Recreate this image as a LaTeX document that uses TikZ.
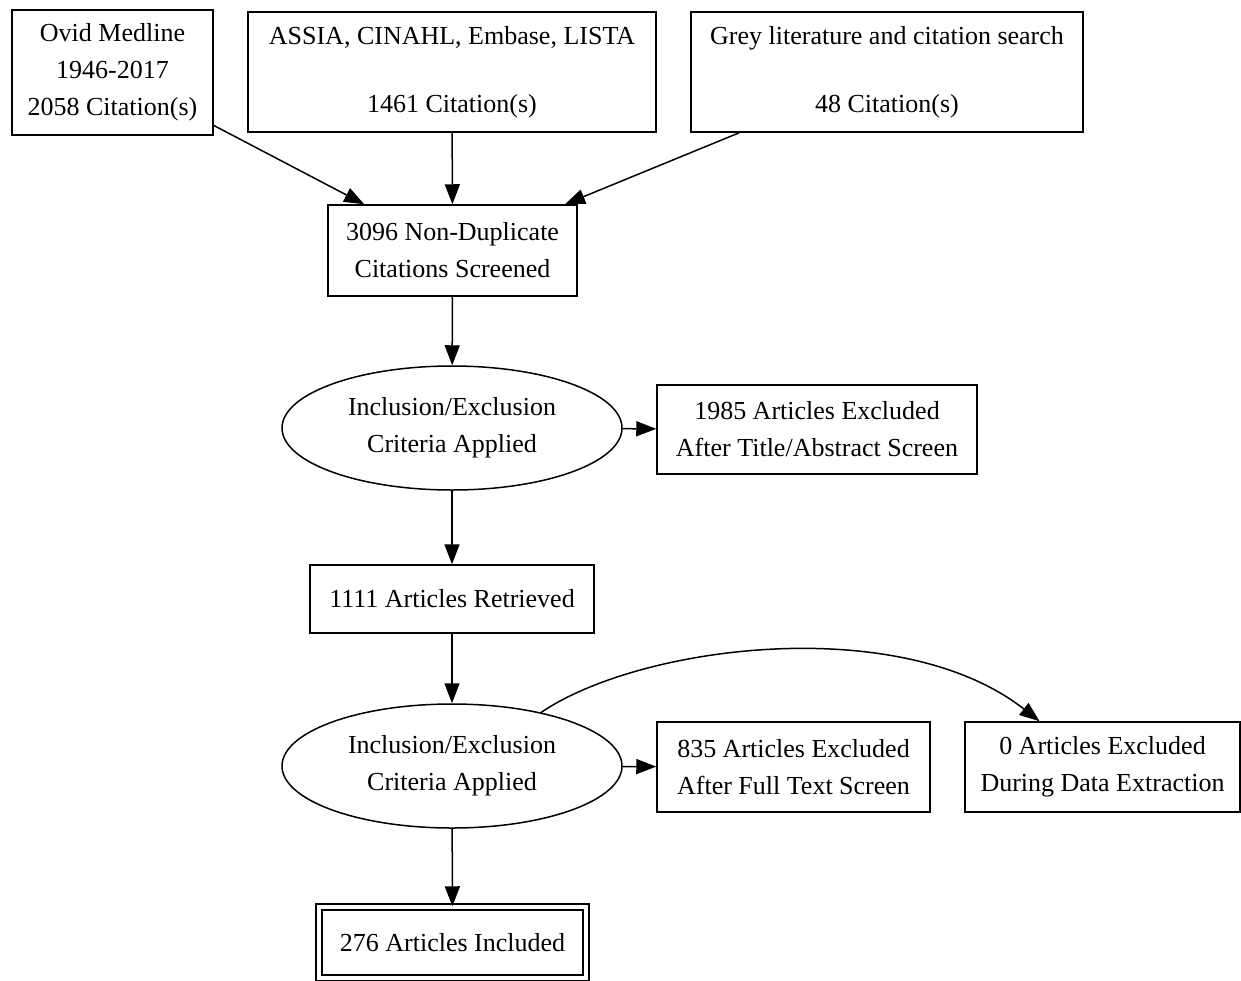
\documentclass[tikz,border=0pt]{standalone}
\usepackage{fontspec}
\setmainfont{Liberation Serif}
\usetikzlibrary{shapes.geometric,arrows.meta}

\begin{document}
\begin{tikzpicture}[x=1pt,y=-1pt,
	font=\fontsize{26}{37}\selectfont,
	box/.style={draw,line width=1.5pt,rectangle,align=center,inner sep=0pt},
	oval/.style={draw,line width=1.5pt,ellipse,align=center,inner sep=0pt,minimum width=340pt,minimum height=124pt},
	link/.style={line width=1.5pt,-{Triangle[length=20pt,width=15pt]}}]
	\useasboundingbox (0,0) rectangle (1241,980);

	% sources
	\node[box,minimum width=201pt,minimum height=125pt] (ovid) at (112.5,72.5) {Ovid Medline\\1946-2017\\2058 Citation(s)};
	\node[box,minimum width=408pt,minimum height=120pt] (assia) at (452,72) {ASSIA, CINAHL, Embase, LISTA\\[31pt]1461 Citation(s)};
	\node[box,minimum width=392pt,minimum height=120pt] (grey) at (887,72) {Grey literature and citation search\\[31pt]48 Citation(s)};

	% screening
	\node[box,minimum width=249pt,minimum height=91pt] (screened) at (452.5,250.5) {3096 Non-Duplicate\\Citations Screened};
	\node[oval] (criteria1) at (452,428) {Inclusion/Exclusion\\Criteria Applied};
	\node[box,minimum width=320pt,minimum height=89pt] (excl1) at (817,429.5) {1985 Articles Excluded\\After Title/Abstract Screen};
	\node[box,minimum width=284pt,minimum height=68pt] (retrieved) at (452,599) {1111 Articles Retrieved};
	\node[oval] (criteria2) at (452,766) {Inclusion/Exclusion\\Criteria Applied};
	\node[box,minimum width=273pt,minimum height=90pt] (excl2) at (793.5,767) {835 Articles Excluded\\After Full Text Screen};
	\node[box,minimum width=275pt,minimum height=90pt] (excl3) at (1102.5,767) {0 Articles Excluded\\During Data Extraction};
	\node[box,double,double distance=4.5pt,minimum width=267pt,minimum height=71pt] (included) at (452.5,942.5) {276 Articles Included};

	\draw[link] (ovid) -- (screened);
	\draw[link] (assia) -- (screened);
	\draw[link] (grey) -- (screened);
	\draw[link] (screened) -- (criteria1);
	\draw[link] (criteria1) -- (excl1);
	\draw[link] (criteria1) -- (retrieved);
	\draw[link] (retrieved) -- (criteria2);
	\draw[link] (criteria2) -- (excl2);
	\draw[link] (criteria2.31) .. controls (640,645) and (900,612) .. (excl3.144);
	\draw[link] (criteria2) -- (included);
\end{tikzpicture}
\end{document}
